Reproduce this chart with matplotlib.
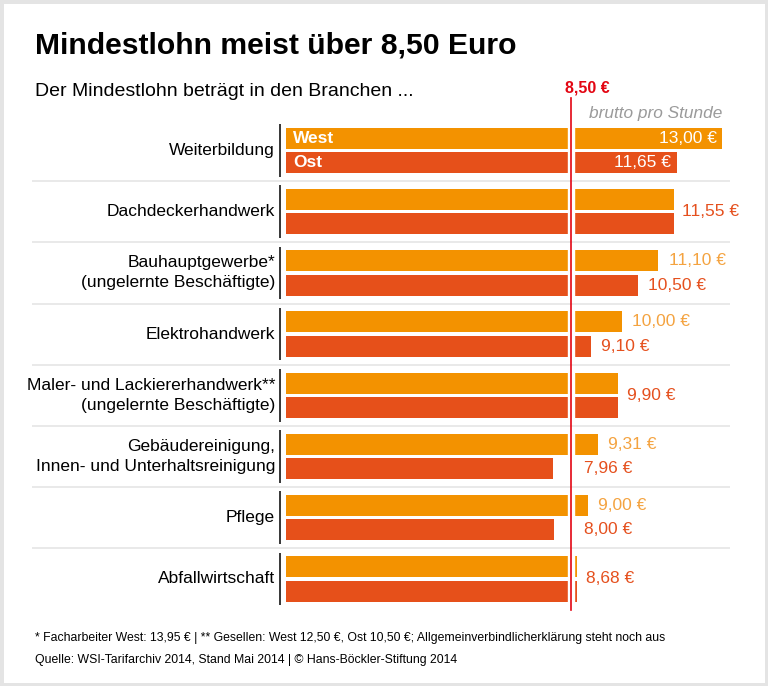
import numpy as np
import matplotlib
matplotlib.use('Agg')
import matplotlib.pyplot as plt
from matplotlib.patches import Rectangle

# Daten: Mindestlohn in Euro pro Stunde (brutto)
branchen = ['Weiterbildung',
            'Dachdeckerhandwerk',
            'Bauhauptgewerbe*\n(ungelernte Beschäftigte)',
            'Elektrohandwerk',
            'Maler- und Lackiererhandwerk**\n(ungelernte Beschäftigte)',
            'Gebäudereinigung,\nInnen- und Unterhaltsreinigung',
            'Pflege',
            'Abfallwirtschaft']
west = [13.00, 11.55, 11.10, 10.00, 9.90, 9.31, 9.00, 8.68]
ost = [11.65, 11.55, 10.50, 9.10, 9.90, 7.96, 8.00, 8.68]
mindestlohn = 8.50

titel = 'Mindestlohn meist über 8,50 Euro'
untertitel = 'Der Mindestlohn beträgt in den Branchen ...'
fussnote = ['* Facharbeiter West: 13,95 € | ** Gesellen: West 12,50 €, Ost 10,50 €; '
            'Allgemeinverbindlicherklärung steht noch aus',
            'Quelle: WSI-Tarifarchiv 2014, Stand Mai 2014 | © Hans-Böckler-Stiftung 2014']

C_WEST = '#f39200'
C_OST = '#e6501a'
C_WEST_TXT = '#f4a340'
C_OST_TXT = '#e5501e'
C_RED = '#e30613'
SANS = ['Liberation Sans', 'DejaVu Sans']

W, H = 768, 686


def fx(x):
    return x / W


def fy(y):
    return 1 - y / H


def euro(v):
    return f'{v:.2f}'.replace('.', ',') + ' €'


fig = plt.figure(figsize=(W / 100, H / 100), dpi=100)
fig.patches.append(Rectangle((0, 0), 1, 1, transform=fig.transFigure,
                             fill=False, edgecolor='#e4e4e4', linewidth=5))

xmax = 13.53
ax = fig.add_axes([fx(285.5), fy(609.5), xmax * 33.6 / W, 489.6 / H])
ax.set_xlim(0, xmax)
ax.set_ylim(7.5, -0.5)
ax.axis('off')

y = np.arange(len(branchen))
bh = 0.343
ax.barh(y - 0.2, west, height=bh, color=C_WEST, zorder=2)
ax.barh(y + 0.2, ost, height=bh, color=C_OST, zorder=2)

# Luecke um die 8,50-Linie
ax.axvspan(8.41, 8.58, color='white', zorder=3)
ax.hlines(y[:-1] + 0.5, -7.545, 13.23, color='#e3e3e3', lw=1.1,
          clip_on=False, zorder=3.5)
ax.vlines(np.full(len(y), -0.155), y - 0.43, y + 0.43, color='black', lw=1.1,
          clip_on=False)
ax.plot([mindestlohn, mindestlohn], [7.5, -0.86], color=C_RED, lw=1.2,
        clip_on=False, zorder=5)

for i, name in enumerate(branchen):
    ax.text(-0.31, i, name, ha='right', va='center', fontsize=12.5,
            family=SANS, linespacing=1.42)
    w, o = west[i], ost[i]
    if i == 0:
        ax.text(w - 0.17, i - 0.2, euro(w), ha='right', va='center',
                fontsize=12.5, color='white', family=SANS, zorder=4)
        ax.text(o - 0.17, i + 0.2, euro(o), ha='right', va='center',
                fontsize=12.5, color='white', family=SANS, zorder=4)
        ax.text(0.23, i - 0.2, 'West', ha='left', va='center', fontsize=12.5,
                color='white', weight='bold', family=SANS, zorder=4)
        ax.text(0.23, i + 0.2, 'Ost', ha='left', va='center', fontsize=12.5,
                color='white', weight='bold', family=SANS, zorder=4)
    elif w == o:
        ax.text(max(w, 8.58) + 0.25, i, euro(o), ha='left', va='center',
                fontsize=12.5, color=C_OST_TXT, family=SANS)
    else:
        ax.text(max(w, 8.58) + 0.3, i - 0.2, euro(w), ha='left', va='center',
                fontsize=12.5, color=C_WEST_TXT, family=SANS)
        ax.text(max(o, 8.58) + 0.3, i + 0.2, euro(o), ha='left', va='center',
                fontsize=12.5, color=C_OST_TXT, family=SANS)

fig.text(fx(35), fy(53), titel, fontsize=21.7, weight='bold', family=SANS,
         va='baseline')
fig.text(fx(35), fy(96.5), untertitel, fontsize=14, family=SANS, va='baseline')
fig.text(fx(587.5), fy(92.5), euro(mindestlohn), fontsize=11.5, weight='bold',
         color=C_RED, family=SANS, ha='center', va='baseline')
fig.text(fx(722), fy(118), 'brutto pro Stunde', fontsize=12.4, style='italic',
         color='#9a9a9a', family=SANS, ha='right', va='baseline')
fig.text(fx(35), fy(641), fussnote[0], fontsize=8.85, family=SANS, va='baseline')
fig.text(fx(35), fy(663), fussnote[1], fontsize=8.85, family=SANS, va='baseline')

fig.savefig('out.png', dpi=100)
